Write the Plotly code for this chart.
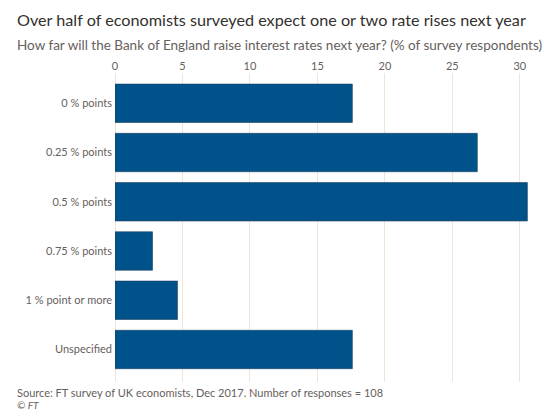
import plotly.graph_objects as go

categories = ["0 % points", "0.25 % points", "0.5 % points", "0.75 % points",
              "1 % point or more", "Unspecified"]
values = [17.59, 26.85, 30.56, 2.78, 4.63, 17.59]
x_ticks = [0, 5, 10, 15, 20, 25, 30]

W, H = 544, 419
L, R, T, B = 115, 10, 73, 37
plot_w = W - L - R
plot_h = H - T - B

def px_x(p):
    return (p - L) / plot_w

def px_y(p):
    return (H - B - p) / plot_h

FONT = "Lato"
fig = go.Figure(go.Bar(
    x=values, y=categories, orientation="h",
    marker=dict(color="#00528a", line=dict(color="#1d3f5e", width=0.6)),
    width=0.78,
))

fig.update_layout(
    width=W, height=H,
    margin=dict(l=L, r=R, t=T, b=B, autoexpand=False),
    paper_bgcolor="white", plot_bgcolor="white",
    showlegend=False,
    font=dict(family=FONT, color="#66605c"),
    xaxis=dict(side="top", range=[0, 31.05], tickvals=x_ticks, automargin=False,
               showgrid=True, gridcolor="#f0e4d9", gridwidth=1,
               zeroline=True, zerolinecolor="#f0e4d9", zerolinewidth=1,
               tickfont=dict(size=11, color="#66605c"), ticks="", showline=False),
    yaxis=dict(categoryorder="array", categoryarray=categories, automargin=False,
               range=[5.66, -0.615], showgrid=False, zeroline=False,
               tickfont=dict(size=11, color="#66605c"), ticks="", showline=False,
               ticklabelstandoff=2),
    annotations=[
        dict(text="Over half of economists surveyed expect one or two rate rises next year",
             x=px_x(15), y=px_y(20), xref="paper", yref="paper",
             xanchor="left", yanchor="middle", showarrow=False,
             font=dict(size=16.2, color="#33302e", family=FONT)),
        dict(text="How far will the Bank of England raise interest rates next year? (% of survey respondents)",
             x=px_x(15), y=px_y(45), xref="paper", yref="paper",
             xanchor="left", yanchor="middle", showarrow=False,
             font=dict(size=13.5, color="#66605c", family=FONT)),
        dict(text="Source: FT survey of UK economists, Dec 2017. Number of responses = 108",
             x=px_x(15), y=px_y(392), xref="paper", yref="paper",
             xanchor="left", yanchor="middle", showarrow=False,
             font=dict(size=11, color="#66605c", family=FONT)),
        dict(text="<i>© FT</i>",
             x=px_x(15), y=px_y(405), xref="paper", yref="paper",
             xanchor="left", yanchor="middle", showarrow=False,
             font=dict(size=10, color="#66605c", family=FONT)),
    ],
)

fig.write_html("out.html", config={"displayModeBar": False},
               post_script="document.body.style.margin='0';")
